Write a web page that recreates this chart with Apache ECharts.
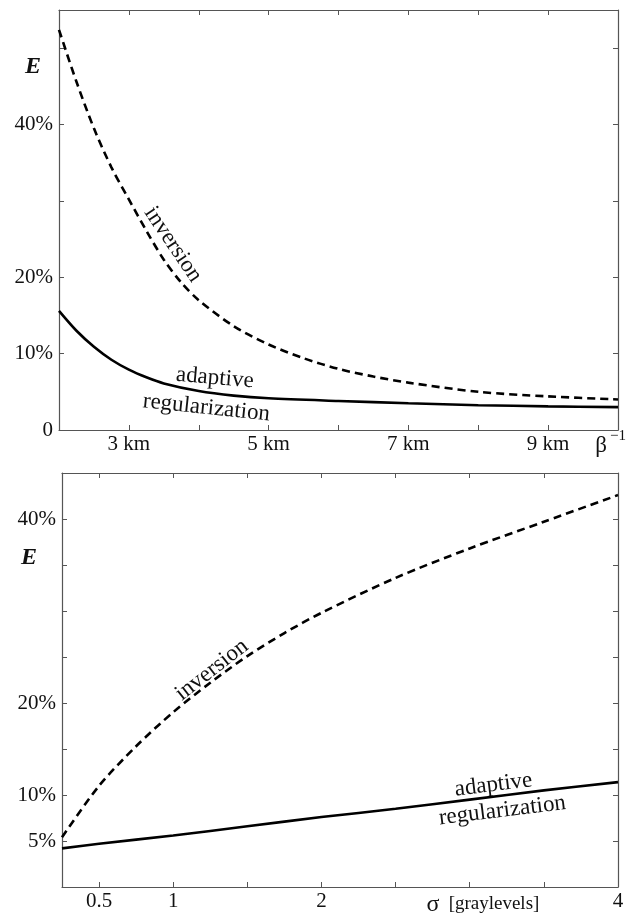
<!DOCTYPE html>
<html>
<head>
<meta charset="utf-8">
<script src="https://cdn.jsdelivr.net/npm/echarts@6/dist/echarts.min.js"></script>
<style>
html,body{margin:0;padding:0;background:#fff;}
#c{width:631px;height:917px;}
</style>
</head>
<body>
<div id="c"></div>
<script>
// ---- Top panel: E vs beta^-1 (km) ----
const topInversion = [[2.0,52.4],[2.25,45.6],[2.5,39.5],[2.75,34.4],[3.0,30.2],[3.25,26.1],[3.5,22.3],[3.75,19.3],[4.0,17.0],[4.5,13.6],[5.0,11.2],[5.5,9.4],[6.0,8.0],[6.5,7.0],[7.0,6.2],[8.0,5.0],[9.0,4.4],[10.0,4.0]];
const topAdaptive = [[2.0,15.6],[2.25,13.0],[2.5,10.9],[2.75,9.2],[3.0,7.9],[3.25,6.9],[3.5,6.1],[4.0,5.1],[4.5,4.5],[5.0,4.15],[6.0,3.8],[7.0,3.5],[8.0,3.25],[9.0,3.1],[10.0,3.0]];
const topXTicks = [3,4,5,6,7,8,9];
const topXLabels = [3,5,7,9];
const topYTicks = [10,20,30,40,50];
const topYLabels = [0,10,20,40];

// ---- Bottom panel: E vs sigma (graylevels) ----
const botInversion = [[0.25,5.4],[0.5,11.0],[0.75,15.3],[1.0,19.0],[1.25,22.2],[1.5,25.1],[1.75,27.6],[2.0,29.8],[2.5,33.6],[3.0,36.8],[3.5,39.7],[4.0,42.6]];
const botAdaptive = [[0.25,4.2],[0.5,4.7],[1.0,5.6],[1.5,6.6],[2.0,7.6],[2.5,8.5],[3.0,9.5],[3.5,10.5],[4.0,11.4]];
const botXTicks = [0.5,1,1.5,2,2.5,3,3.5,4];
const botXLabels = [0.5,1,2,4];
const botYTicks = [5,10,15,20,25,30,35,40];
const botYLabels = [5,10,20,40];

// annotations in data coordinates: [gridIndex, x, y, text, rotationDeg, fontSize]
const annotations = [
  [0, 3.63, 24.3, 'inversion', -56, 23],
  [0, 4.23, 6.8, 'adaptive', -5, 23],
  [0, 4.11, 2.9, 'regularization', -6, 23],
  [1, 1.26, 23.6, 'inversion', 38, 23],
  [1, 3.16, 11.1, 'adaptive', 7, 23],
  [1, 3.22, 8.3, 'regularization', 7, 23]
];

const FONT = '"Liberation Serif", "Times New Roman", serif';
const AX = '#555';

function mainX(grid, min, max, ticks, labels, fmt) {
  return {
    type: 'value', gridIndex: grid, min: min, max: max, position: 'bottom',
    axisLine: {show: true, onZero: false, lineStyle: {color: AX, width: 1.2}},
    axisTick: {show: true, inside: true, length: 5, customValues: ticks, lineStyle: {color: AX}},
    axisLabel: {show: true, customValues: labels, formatter: fmt, margin: 4,
      fontFamily: FONT, fontSize: 21, color: '#111'},
    splitLine: {show: false}
  };
}
function mirrorX(grid, min, max, ticks) {
  return {
    type: 'value', gridIndex: grid, min: min, max: max, position: 'top',
    axisLine: {show: true, onZero: false, lineStyle: {color: AX, width: 1.2}},
    axisTick: {show: true, inside: true, length: 5, customValues: ticks, lineStyle: {color: AX}},
    axisLabel: {show: false}, splitLine: {show: false}
  };
}
function mainY(grid, min, max, ticks, labels, fmt) {
  return {
    type: 'value', gridIndex: grid, min: min, max: max, position: 'left',
    axisLine: {show: true, onZero: false, lineStyle: {color: AX, width: 1.2}},
    axisTick: {show: true, inside: true, length: 5, customValues: ticks, lineStyle: {color: AX}},
    axisLabel: {show: true, customValues: labels, formatter: fmt, margin: 6,
      fontFamily: FONT, fontSize: 21, color: '#111'},
    splitLine: {show: false}
  };
}
function mirrorY(grid, min, max, ticks) {
  return {
    type: 'value', gridIndex: grid, min: min, max: max, position: 'right',
    axisLine: {show: true, onZero: false, lineStyle: {color: AX, width: 1.2}},
    axisTick: {show: true, inside: true, length: 5, customValues: ticks, lineStyle: {color: AX}},
    axisLabel: {show: false}, splitLine: {show: false}
  };
}
const pct = v => (v === 0 ? '0' : v + '%');

const chart = echarts.init(document.getElementById('c'), null, {renderer: 'canvas'});

const lineSeries = (name, data, xi, yi, dashed) => ({
  name: name, type: 'line', xAxisIndex: xi, yAxisIndex: yi, data: data,
  smooth: 0.3, showSymbol: false, silent: true, animation: false,
  lineStyle: {color: '#000', width: 2.6, type: dashed ? [8, 5] : 'solid'}
});

chart.setOption({
  animation: false,
  backgroundColor: '#fff',
  grid: [
    {left: 59, top: 10, width: 559, height: 420},
    {left: 62, top: 473, width: 556, height: 414}
  ],
  xAxis: [
    mainX(0, 2, 10, topXTicks, topXLabels, v => v + ' km'),
    mirrorX(0, 2, 10, topXTicks),
    mainX(1, 0.25, 4, botXTicks, botXLabels, v => String(v)),
    mirrorX(1, 0.25, 4, botXTicks)
  ],
  yAxis: [
    mainY(0, 0, 55, topYTicks, topYLabels, pct),
    mirrorY(0, 0, 55, topYTicks),
    mainY(1, 0, 45, botYTicks, botYLabels, pct),
    mirrorY(1, 0, 45, botYTicks)
  ],
  series: [
    lineSeries('inversion', topInversion, 0, 0, true),
    lineSeries('adaptive regularization', topAdaptive, 0, 0, false),
    lineSeries('inversion', botInversion, 2, 2, true),
    lineSeries('adaptive regularization', botAdaptive, 2, 2, false)
  ]
});

const graphics = [];
annotations.forEach(a => {
  const xi = a[0] === 0 ? 0 : 2;
  const p = chart.convertToPixel({xAxisIndex: xi, yAxisIndex: xi}, [a[1], a[2]]);
  graphics.push({
    type: 'text', x: p[0], y: p[1], rotation: a[4] * Math.PI / 180, silent: true,
    style: {text: a[3], fontFamily: FONT, fontSize: a[5], fill: '#111',
      textAlign: 'center', textVerticalAlign: 'middle'}
  });
});
// axis titles
graphics.push(
  {type: 'text', x: 33, y: 67, style: {text: 'E', fontFamily: FONT, fontStyle: 'italic', fontWeight: 'bold', fontSize: 24, fill: '#111', textAlign: 'center', textVerticalAlign: 'middle'}},
  {type: 'text', x: 29, y: 558, style: {text: 'E', fontFamily: FONT, fontStyle: 'italic', fontWeight: 'bold', fontSize: 24, fill: '#111', textAlign: 'center', textVerticalAlign: 'middle'}},
  {type: 'text', x: 601, y: 446, style: {text: 'β', fontFamily: FONT, fontSize: 23, fill: '#111', textAlign: 'center', textVerticalAlign: 'middle'}},
  {type: 'text', x: 618, y: 436, style: {text: '−1', fontFamily: FONT, fontSize: 15, fill: '#111', textAlign: 'center', textVerticalAlign: 'middle'}},
  {type: 'text', x: 433, y: 905, style: {text: 'σ', fontFamily: FONT, fontSize: 24, fill: '#111', textAlign: 'center', textVerticalAlign: 'middle'}},
  {type: 'text', x: 494, y: 904, style: {text: '[graylevels]', fontFamily: FONT, fontSize: 19, fill: '#111', textAlign: 'center', textVerticalAlign: 'middle'}}
);
chart.setOption({graphic: graphics});
</script>
</body>
</html>
